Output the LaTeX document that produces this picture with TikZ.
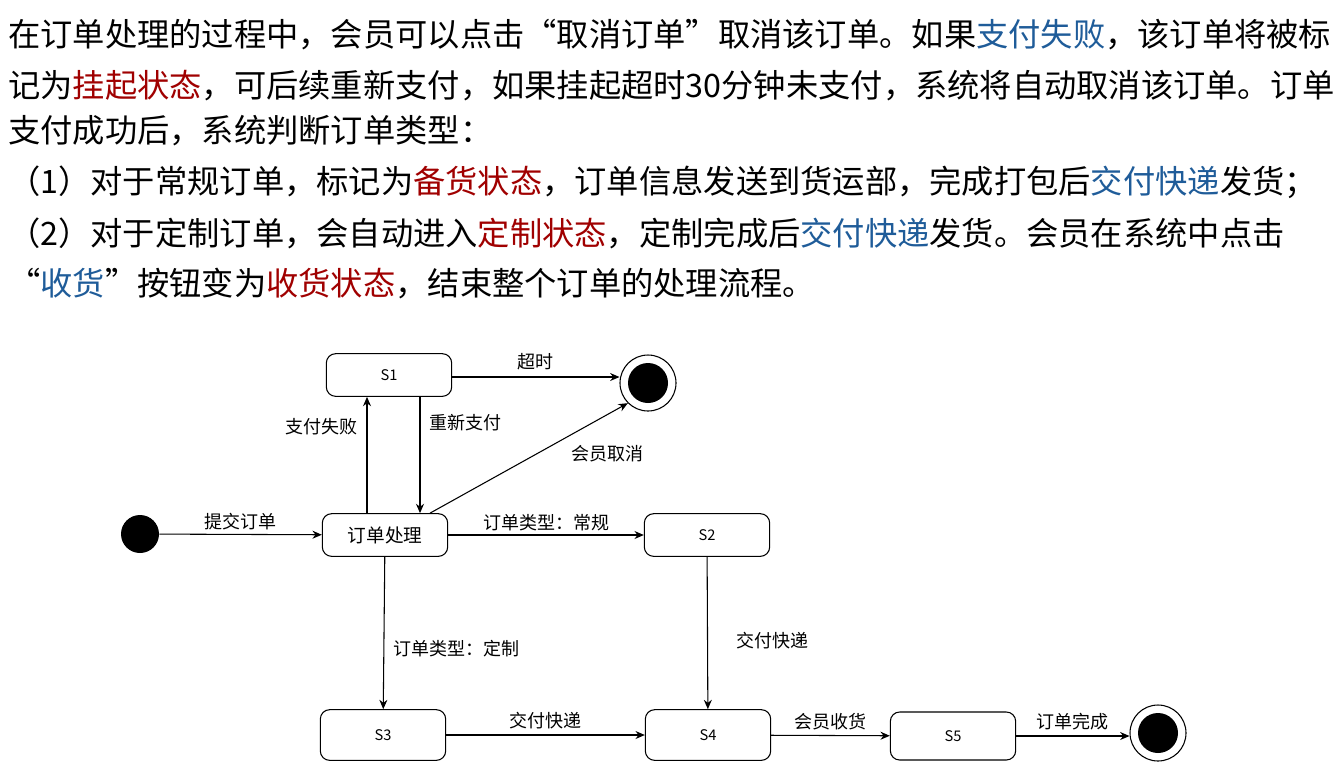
\documentclass[tikz,border=0pt]{standalone}
\usepackage{fontspec}
\setmainfont{Noto Sans CJK SC}
\usetikzlibrary{arrows.meta}
\definecolor{rd}{HTML}{A00000}
\definecolor{bl}{HTML}{1F5C99}
\begin{document}
\begin{tikzpicture}[x=0.75pt,y=-0.75pt,
  para/.style={anchor=west,inner sep=0pt,font=\fontsize{24.2pt}{27pt}\selectfont},
  st/.style={draw,thick,rounded corners=7pt,minimum width=94pt,minimum height=32pt,inner sep=0pt,font=\fontsize{11pt}{13pt}\selectfont},
  lbl/.style={font=\fontsize{13.5pt}{15pt}\selectfont,inner sep=1pt},
  arr/.style={-{Stealth[length=7pt,width=6pt]},thick}]
\useasboundingbox (0,0) rectangle (1342,776);
\node[para] at (8,35) {在订单处理的过程中，会员可以点击“取消订单”取消该订单。如果\textcolor{bl}{支付失败}，该订单将被标};
\node[para] at (8,86) {记为\textcolor{rd}{挂起状态}，可后续重新支付，如果挂起超时30分钟未支付，系统将自动取消该订单。订单};
\node[para] at (8,131) {支付成功后，系统判断订单类型：};
\node[para] at (8,182) {（1）对于常规订单，标记为\textcolor{rd}{备货状态}，订单信息发送到货运部，完成打包后\textcolor{bl}{交付快递}发货；};
\node[para] at (8,233) {（2）对于定制订单，会自动进入\textcolor{rd}{定制状态}，定制完成后\textcolor{bl}{交付快递}发货。会员在系统中点击};
\node[para] at (8,284) {“\textcolor{bl}{收货}”按钮变为\textcolor{rd}{收货状态}，结束整个订单的处理流程。};

\node[st] (s1) at (389,375) {S1};
\node[st,font=\fontsize{14pt}{16pt}\selectfont] (p) at (385,535) {订单处理};
\node[st] (s2) at (707,535) {S2};
\node[st,minimum height=38pt] (s3) at (383,735) {S3};
\node[st,minimum height=38pt] (s4) at (708,735) {S4};
\node[st,minimum height=36pt] (s5) at (953,736) {S5};
\node[circle,fill=black,minimum size=28.5pt,inner sep=0pt] (start) at (140,534) {};
\node[circle,draw,thick,minimum size=42pt,inner sep=0pt] (e1) at (648,383) {};
\node[circle,fill=black,minimum size=30pt,inner sep=0pt] at (e1) {};
\node[circle,draw,thick,minimum size=42pt,inner sep=0pt] (e2) at (1158,733) {};
\node[circle,fill=black,minimum size=30pt,inner sep=0pt] at (e2) {};

\draw[arr] (p.north -| 367,0) -- node[lbl,left=6pt,pos=0.74] {支付失败} (s1.south -| 367,0);
\draw[arr] (s1.south -| 420,0) -- node[lbl,right=6pt,pos=0.22] {重新支付} (p.north -| 420,0);
\draw[arr] (start) -- node[lbl,above=2pt] {提交订单} (p);
\draw[arr] (s1.east |- 0,377) -- node[lbl,above=4pt] {超时} (e1.west |- 0,377);
\draw[arr] (p.north -| 430,0) -- node[lbl,anchor=north west,xshift=4pt,yshift=-4pt,pos=0.68] {会员取消} (e1.south west);
\draw[arr] (p) -- node[lbl,above=2pt] {订单类型：常规} (s2);
\draw[arr] (p) -- node[lbl,right=6pt,pos=0.6] {订单类型：定制} (s3);
\draw[arr] (s2) -- node[lbl,right=20pt,pos=0.55] {交付快递} (s4);
\draw[arr] (s3) -- node[lbl,above=3pt] {交付快递} (s4);
\draw[arr] (s4) -- node[lbl,above=3pt] {会员收货} (s5);
\draw[arr] (s5.east |- 0,736) -- node[lbl,above=3pt] {订单完成} (e2.west |- 0,736);
\end{tikzpicture}
\end{document}
